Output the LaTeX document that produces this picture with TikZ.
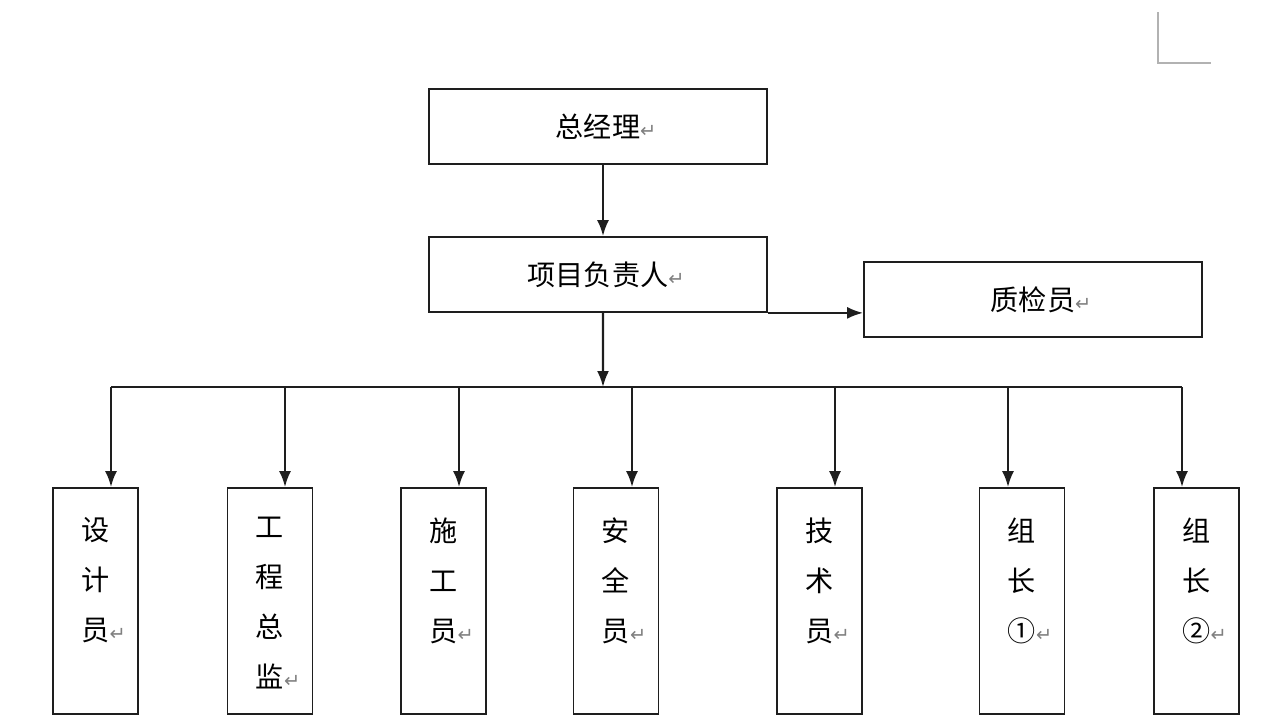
\documentclass[tikz,border=0pt]{standalone}
\usepackage{fontspec}
\newfontfamily\cjk{Noto Sans CJK SC}
\newfontfamily\dv{DejaVu Sans}
\usetikzlibrary{positioning,arrows.meta}
\definecolor{ln}{RGB}{30,30,30}
\newcommand{\ret}{\rlap{\color{gray}\dv\fontsize{11}{11}\selectfont ↵}}

\begin{document}
\begin{tikzpicture}[
    font=\cjk\fontsize{16}{28.45}\selectfont,
    b/.style={
        draw=ln, line width=1pt,
        minimum width=6.76cm, minimum height=1.5cm
    },
    v/.style={
        draw=ln, line width=1pt,
        minimum width=1.7cm, minimum height=4.52cm
    },
    t/.style={anchor=north, align=center, inner sep=0pt},
    a/.style={-{Latex[length=0.32cm,width=0.24cm]}, line width=1.3pt, color=ln}
]
\useasboundingbox (0,0) rectangle (25.46,-14.48);

\node [b] (gm) at (11.96,-2.53) {总经理\ret};
\node [b] (pm) at (11.96,-5.49) {项目负责人\ret};
\node [b] (qc) at (20.66,-5.99) {质检员\ret};

\node [v] (s1) at (1.91,-12.02) {};
\node [v] (s2) at (5.40,-12.02) {};
\node [v] (s3) at (8.87,-12.02) {};
\node [v] (s4) at (12.32,-12.02) {};
\node [v] (s5) at (16.39,-12.02) {};
\node [v] (s6) at (20.44,-12.02) {};
\node [v] (s7) at (23.93,-12.02) {};

\node [t] (t1) at ([yshift=-0.6cm]s1.north) {设\\计\\员\ret};
\node [t] (t2) at ([yshift=-0.6cm]s2.north) {工\\程\\总\\监\ret};
\node [t] (t3) at ([yshift=-0.6cm]s3.north) {施\\工\\员\ret};
\node [t] (t4) at ([yshift=-0.6cm]s4.north) {安\\全\\员\ret};
\node [t] (t5) at ([yshift=-0.6cm]s5.north) {技\\术\\员\ret};
\node [t] (t6) at ([yshift=-0.6cm]s6.north) {组\\长\\①\ret};
\node [t] (t7) at ([yshift=-0.6cm]s7.north) {组\\长\\②\ret};

\coordinate (bus) at (12.06,-7.74);
\coordinate (c1) at (2.22,-7.74);
\coordinate (c2) at (5.70,-7.74);
\coordinate (c3) at (9.18,-7.74);
\coordinate (c4) at (12.64,-7.74);
\coordinate (c5) at (16.70,-7.74);
\coordinate (c6) at (20.16,-7.74);
\coordinate (c7) at (23.64,-7.74);

\draw [a] ([xshift=0.1cm]gm.south) -- ([xshift=0.1cm]pm.north);
\draw [a] ([xshift=0.1cm]pm.south) -- (bus);
\draw [a] (pm.south east) -- (pm.south east -| qc.west);
\draw [line width=1.3pt, color=ln] (c1) -- (c7);
\foreach \i in {1,...,7}
    \draw [a] (c\i) -- (c\i |- s\i.north);

% page corner mark
\draw [gray!60, line width=1pt] (23.16,-0.24) -- (23.16,-1.26) -- (24.22,-1.26);

\end{tikzpicture}
\end{document}
